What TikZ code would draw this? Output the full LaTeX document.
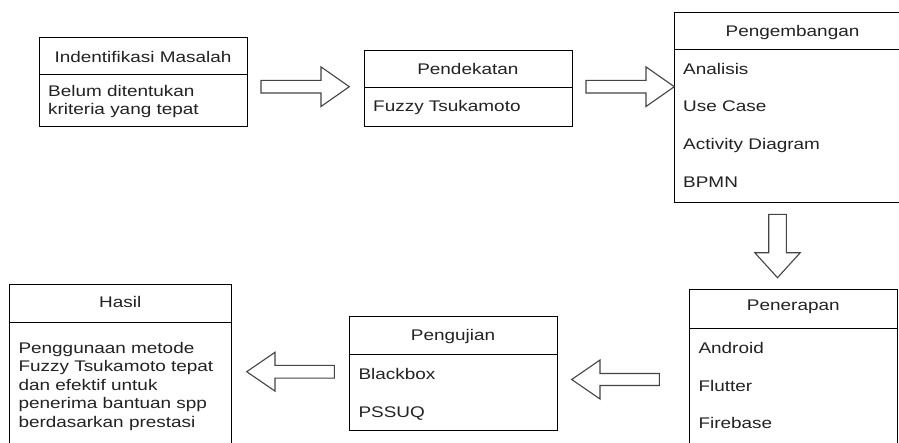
\documentclass[tikz,border=0pt]{standalone}
\usepackage{fontspec}
\setmainfont{Liberation Sans}
\newcommand{\hs}[1]{\scalebox{1.23}[1]{#1}}
\definecolor{txt}{HTML}{222222}
\definecolor{arr}{HTML}{444444}
\tikzset{
  box/.style={draw=black, line width=1pt, fill=white, inner sep=0pt, anchor=north west},
  divl/.style={draw=black, line width=1pt},
  hd/.style={anchor=base, inner sep=0pt, font=\fontsize{15.4}{18.5}\selectfont, text=txt},
  it/.style={anchor=base west, inner sep=0pt, font=\fontsize{15.4}{18.5}\selectfont, text=txt},
  blk/.style={draw=arr, line width=1.1pt, fill=white, line join=miter},
}
\begin{document}
\begin{tikzpicture}[x=1pt,y=-1pt]
\useasboundingbox (0,0) rectangle (899,442);
\clip (0,0) rectangle (899,442);
\fill[white] (0,0) rectangle (899,442);

% Box 1
\node[box, minimum width=208pt, minimum height=89.3pt] (b1) at (39,36.7) {};
\draw[divl] (b1.west |- 0,74.3) -- (b1.east |- 0,74.3);
\node[hd] (b1h) at (143,62.3) {\hs{Indentifikasi Masalah}};
\node[it] (b1a) at (48,96.7) {\hs{Belum ditentukan}};
\node[it] (b1b) at (48,114.5) {\hs{kriteria yang tepat}};

% Box 2
\node[box, minimum width=207.7pt, minimum height=75.7pt] (b2) at (364,50) {};
\draw[divl] (b2.west |- 0,87.7) -- (b2.east |- 0,87.7);
\node[hd] (b2h) at (467.85,74) {\hs{Pendekatan}};
\node[it] (b2a) at (373,111.7) {\hs{Fuzzy Tsukamoto}};

% Box 3
\node[box, minimum width=236.4pt, minimum height=190pt] (b3) at (674.3,11.7) {};
\draw[divl] (b3.west |- 0,49.6) -- (b3.east |- 0,49.6);
\node[hd] (b3h) at (792.5,36) {\hs{Pengembangan}};
\node[it] (b3a) at (683,74) {\hs{Analisis}};
\node[it] (b3b) at (683,111.7) {\hs{Use Case}};
\node[it] (b3c) at (683,149.7) {\hs{Activity Diagram}};
\node[it] (b3d) at (683,187.3) {\hs{BPMN}};

% Box 4 Penerapan
\node[box, minimum width=208pt, minimum height=180pt] (b4) at (689.3,289.3) {};
\draw[divl] (b4.west |- 0,328.3) -- (b4.east |- 0,328.3);
\node[hd] (b4h) at (793.3,310) {\hs{Penerapan}};
\node[it] (b4a) at (698.3,353.3) {\hs{Android}};
\node[it] (b4b) at (698.3,391) {\hs{Flutter}};
\node[it] (b4c) at (698.3,428.7) {\hs{Firebase}};

% Box 5 Pengujian
\node[box, minimum width=207.4pt, minimum height=114.3pt] (b5) at (349.3,315.7) {};
\draw[divl] (b5.west |- 0,354) -- (b5.east |- 0,354);
\node[hd] (b5h) at (453,340) {\hs{Pengujian}};
\node[it] (b5a) at (358.3,379) {\hs{Blackbox}};
\node[it] (b5b) at (358.3,417.3) {\hs{PSSUQ}};

% Box 6 Hasil
\node[box, minimum width=221.7pt, minimum height=180pt] (b6) at (9.3,284.3) {};
\draw[divl] (b6.west |- 0,322.3) -- (b6.east |- 0,322.3);
\node[hd] (b6h) at (120.2,307.3) {\hs{Hasil}};
\node[it] (b6a) at (18.3,353.3) {\hs{Penggunaan metode}};
\node[it] (b6b) at (18.3,371.8) {\hs{Fuzzy Tsukamoto tepat}};
\node[it] (b6c) at (18.3,390.3) {\hs{dan efektif untuk}};
\node[it] (b6d) at (18.3,408.8) {\hs{penerima bantuan spp}};
\node[it] (b6e) at (18.3,427.3) {\hs{berdasarkan prestasi}};

% Block arrows
\draw[blk] (261,80.4) -- (321,80.4) -- (321,66.9) -- (349.3,86.7) -- (321,106.5) -- (321,93) -- (261,93) -- cycle;
\draw[blk] (586,80.4) -- (646,80.4) -- (646,66.9) -- (674.3,86.7) -- (646,106.5) -- (646,93) -- (586,93) -- cycle;
\draw[blk] (768.7,214.3) -- (786.3,214.3) -- (786.3,252.7) -- (800.2,252.7) -- (777.5,277.7) -- (754.8,252.7) -- (768.7,252.7) -- cycle;
\draw[blk] (659.3,373.5) -- (600,373.5) -- (600,360) -- (571.7,379.5) -- (600,399) -- (600,385.5) -- (659.3,385.5) -- cycle;
\draw[blk] (334.3,365.3) -- (275,365.3) -- (275,352.3) -- (246.7,371.7) -- (275,391.1) -- (275,378.1) -- (334.3,378.1) -- cycle;
\end{tikzpicture}
\end{document}
